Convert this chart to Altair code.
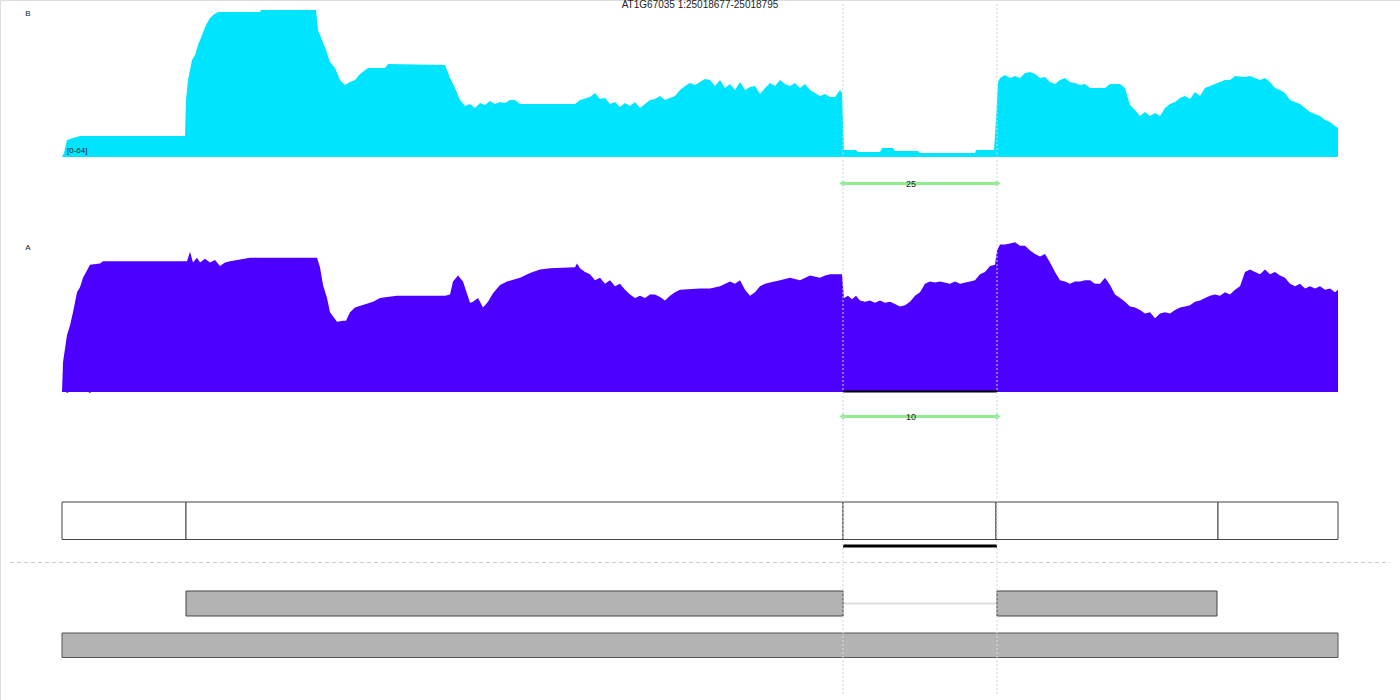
import altair as alt
import pandas as pd

TITLE = "AT1G67035 1:25018677-25018795"
SPAN = [0, 1276]

# coverage track B (range 0-64)
posB = [0, 2, 5, 8, 18, 123, 124, 126, 128, 130, 133, 136, 140, 144, 148, 152, 156, 198, 199, 254,
        256, 260, 264, 268, 273, 278, 283, 288, 293, 298, 306, 323, 326, 383, 388, 393, 398, 403,
        408, 413, 418, 423, 428, 433, 438, 443, 448, 453, 458, 513, 518, 528, 533, 538, 543, 548,
        553, 558, 563, 568, 573, 578, 583, 588, 593, 598, 603, 608, 613, 618, 623, 628, 633, 638,
        643, 648, 653, 658, 663, 668, 673, 678, 683, 688, 693, 698, 703, 708, 713, 718, 723, 728,
        733, 738, 743, 748, 753, 758, 763, 768, 773, 778, 780, 782, 794, 796, 818, 820, 831, 833,
        856, 858, 913, 914, 932, 934, 936, 938, 943, 948, 953, 958, 963, 968, 973, 978, 983, 988,
        993, 998, 1003, 1008, 1013, 1018, 1023, 1028, 1043, 1048, 1058, 1063, 1068, 1073, 1078,
        1083, 1088, 1093, 1098, 1103, 1108, 1113, 1118, 1123, 1128, 1133, 1138, 1143, 1148, 1153,
        1158, 1163, 1168, 1173, 1183, 1188, 1193, 1198, 1203, 1208, 1213, 1218, 1223, 1228, 1233,
        1238, 1243, 1248, 1253, 1258, 1263, 1268, 1273, 1276]
covB = [0, 1.7, 7.4, 7.8, 9.1, 9.1, 24.8, 33.5, 37.9, 42.2, 44.4, 48.8, 53.1, 57.5, 60.5, 62.2, 63.1,
        63.1, 64, 64, 55.3, 50.9, 46.6, 41.4, 38.7, 33.5, 31.3, 32.7, 33.5, 36.1, 38.7, 38.7, 40.5,
        40.1, 34.4, 30, 24.8, 22.2, 23.1, 21.3, 23.5, 22.6, 24.4, 23.1, 23.9, 23.5, 24.8, 24.8,
        23.1, 23.1, 24.8, 26.1, 27.9, 25.2, 25.7, 23.1, 23.9, 21.8, 23.5, 22.2, 23.9, 21.3, 23.1,
        24.8, 25.2, 26.6, 24.8, 25.7, 26.6, 29.2, 30.9, 32.2, 31.3, 32.7, 34, 33.5, 30.9, 33.5, 30,
        31.8, 29.2, 32.7, 29.2, 30.5, 30.9, 27.4, 30, 32.2, 30.9, 33.5, 31.8, 30.9, 32.2, 30, 31.8,
        29.2, 27.9, 26.6, 27.4, 26.1, 26.1, 29.2, 27.9, 3, 3, 2.2, 2.2, 3.9, 3.9, 2.6, 2.6, 1.7,
        1.7, 3, 3, 16.1, 32.7, 34.4, 35.7, 34.4, 35.3, 34.4, 36.6, 37, 36.1, 34.4, 34.8, 32.7,
        31.8, 33.5, 34.4, 32.7, 32.2, 31.3, 31.8, 30, 30, 31.8, 31.8, 30, 22.6, 20.5, 17.8, 19.6,
        17.8, 19.2, 17.8, 21.3, 23.1, 23.9, 25.7, 26.6, 25.2, 28.3, 26.6, 30, 30.9, 31.8, 32.7,
        33.5, 33.5, 35.3, 34.8, 35.3, 34.4, 33.5, 34.4, 32.7, 30, 29.2, 27.9, 24.8, 23.9, 23.1,
        21.3, 19.6, 18.7, 17.8, 16.1, 15.2, 13.5, 12.6]

# coverage track A (range 0-127)
posA = [0, 1, 5, 8, 11, 15, 18, 21, 28, 38, 41, 125, 128, 131, 135, 138, 143, 148, 153, 158, 163,
        168, 188, 255, 258, 261, 265, 268, 275, 281, 284, 288, 293, 311, 318, 325, 335, 383, 388,
        391, 396, 401, 408, 411, 416, 421, 426, 431, 438, 445, 458, 468, 478, 488, 513, 515, 518,
        523, 528, 533, 538, 543, 548, 553, 558, 563, 568, 573, 578, 583, 588, 593, 598, 603, 608,
        613, 618, 638, 648, 658, 668, 673, 678, 683, 688, 693, 698, 703, 708, 718, 728, 738, 748,
        758, 763, 768, 780, 782, 786, 790, 794, 798, 803, 808, 813, 818, 823, 828, 833, 838, 843,
        848, 853, 858, 863, 868, 873, 878, 888, 893, 898, 908, 913, 918, 923, 928, 933, 935, 938,
        943, 948, 953, 958, 963, 968, 973, 978, 983, 988, 993, 998, 1003, 1008, 1013, 1018, 1023,
        1028, 1033, 1038, 1043, 1048, 1053, 1058, 1063, 1068, 1073, 1078, 1083, 1088, 1093, 1098,
        1103, 1108, 1113, 1118, 1123, 1128, 1133, 1138, 1143, 1148, 1153, 1158, 1163, 1168, 1173,
        1178, 1183, 1188, 1193, 1198, 1203, 1208, 1213, 1218, 1223, 1228, 1233, 1238, 1243, 1248,
        1253, 1258, 1263, 1268, 1273, 1276]
covA = [0, 25, 48, 56, 67, 84, 88, 96, 107, 108, 110, 110, 118, 109, 113, 109, 112, 109, 111, 106,
        109, 110, 113, 113, 105, 90, 79, 67, 59, 60, 60, 67, 71, 76, 79, 80, 81, 81, 82, 93, 98, 93,
        75, 76, 79, 71, 76, 83, 90, 93, 96, 100, 103, 104, 105, 108, 104, 101, 99, 94, 96, 91, 94,
        89, 91, 86, 82, 79, 81, 79, 82, 82, 80, 77, 81, 84, 86, 87, 87, 89, 93, 91, 94, 86, 81, 84,
        89, 91, 92, 94, 96, 94, 98, 96, 98, 99, 99, 79, 81, 78, 81, 77, 76, 77, 75, 77, 75, 76, 74,
        72, 73, 76, 81, 84, 91, 93, 92, 93, 91, 93, 91, 93, 94, 99, 101, 106, 107, 119, 124, 124,
        125, 126, 123, 123, 119, 116, 114, 116, 109, 101, 94, 93, 91, 93, 93, 94, 94, 91, 91, 96,
        90, 82, 79, 76, 72, 71, 69, 66, 67, 62, 66, 67, 66, 69, 71, 72, 73, 76, 77, 79, 81, 82, 81,
        84, 82, 86, 89, 101, 103, 101, 99, 103, 99, 101, 98, 96, 91, 89, 91, 87, 89, 87, 89, 86, 87,
        84, 86]

# splice junction
junc_start = [781]
junc_end = [935]
junc_reads_B = ["25"]
junc_reads_A = ["10"]

# gene model segments
gene_start = [0, 124, 781, 934, 1156]
gene_end = [124, 781, 934, 1156, 1276]

# transcripts
tx1_start = [124, 935]
tx1_end = [781, 1155]
tx2_start = [0]
tx2_end = [1276]

CYAN = "#00e5ff"
PURPLE = "#4c00ff"
GREEN = "#90ee90"
FONT = "Liberation Sans"

xs = alt.Scale(domain=SPAN, range=[62, 1338])
X = lambda f: alt.X(f, type="quantitative", scale=xs, axis=None)

dfB = pd.DataFrame({"pos": posB, "cov": covB})
dfA = pd.DataFrame({"pos": posA, "cov": covA})
dfJ = pd.DataFrame({"s": junc_start, "e": junc_end, "rb": junc_reads_B, "ra": junc_reads_A})
dfJpts = pd.DataFrame({"p": junc_start + junc_end})
dfGene = pd.DataFrame({"s": gene_start, "e": gene_end})
dfT1 = pd.DataFrame({"s": tx1_start, "e": tx1_end})
dfT2 = pd.DataFrame({"s": tx2_start, "e": tx2_end})
dfTxt = pd.DataFrame({"t": [TITLE]})

title = alt.Chart(dfTxt).mark_text(font=FONT, fontSize=10, color="#222", baseline="top").encode(
    x=alt.value(700), y=alt.value(0), text="t:N")

labB = alt.Chart(pd.DataFrame({"t": ["B"]})).mark_text(font=FONT, fontSize=8, color="#222").encode(
    x=alt.value(28), y=alt.value(14), text="t:N")
labA = alt.Chart(pd.DataFrame({"t": ["A"]})).mark_text(font=FONT, fontSize=8, color="#222").encode(
    x=alt.value(28), y=alt.value(248), text="t:N")

rangeA = alt.Chart(pd.DataFrame({"t": ["[0-127]"]})).mark_text(
    font=FONT, fontSize=8, color="#000", align="left", baseline="bottom").encode(
    x=alt.value(66), y=alt.value(392.5), text="t:N")

areaB = alt.Chart(dfB).mark_area(color=CYAN, interpolate="linear").encode(
    x=X("pos"),
    y=alt.Y("cov:Q", scale=alt.Scale(domain=[0, 64], range=[157, 10]), axis=None))
areaA = alt.Chart(dfA).mark_area(color=PURPLE, interpolate="linear").encode(
    x=X("pos"),
    y=alt.Y("cov:Q", scale=alt.Scale(domain=[0, 127], range=[392, 241]), axis=None))

rangeB = alt.Chart(pd.DataFrame({"t": ["[0-64]"]})).mark_text(
    font=FONT, fontSize=8, color="#222", align="left", baseline="middle").encode(
    x=alt.value(67), y=alt.value(151), text="t:N")

vlines = alt.Chart(dfJpts).mark_rule(color="#c9dbea", strokeDash=[2, 2], strokeWidth=1).encode(
    x=X("p"), y=alt.value(4), y2=alt.value(696))

def junction(y, lab):
    line = alt.Chart(dfJ).mark_rule(color=GREEN, strokeWidth=3).encode(
        x=X("s"), x2="e:Q", y=alt.value(y))
    pts = alt.Chart(dfJpts).mark_point(shape="diamond", filled=True, color=GREEN, size=40, opacity=1).encode(
        x=X("p"), y=alt.value(y))
    txt = alt.Chart(dfJ).transform_calculate(m="(datum.s + datum.e) / 2").mark_text(
        font=FONT, fontSize=9, color="#222", dx=-9).encode(x=X("m"), y=alt.value(y), text=f"{lab}:N")
    return line + pts + txt

jB = junction(183.5, "rb")
jA = junction(416.5, "ra")

barA = alt.Chart(dfJ).mark_rule(color="#000", strokeWidth=2).encode(
    x=X("s"), x2="e:Q", y=alt.value(391.5))
barG = alt.Chart(dfJ).mark_rule(color="#000", strokeWidth=3).encode(
    x=X("s"), x2="e:Q", y=alt.value(546))

gene = alt.Chart(dfGene).mark_rect(fill="white", stroke="#444", strokeWidth=1).encode(
    x=X("s"), x2="e:Q", y=alt.value(502), y2=alt.value(539.5))

sep = alt.Chart(pd.DataFrame({"a": [0]})).mark_rule(color="#cccccc", strokeDash=[4, 3], strokeWidth=1).encode(
    x=alt.value(10), x2=alt.value(1390), y=alt.value(562.5))

intron = alt.Chart(dfJ).mark_rule(color="#dddddd", strokeWidth=2).encode(
    x=X("s"), x2="e:Q", y=alt.value(603.5))
t1 = alt.Chart(dfT1).mark_rect(fill="#b3b3b3", stroke="#444", strokeWidth=1).encode(
    x=X("s"), x2="e:Q", y=alt.value(591), y2=alt.value(616))
t2 = alt.Chart(dfT2).mark_rect(fill="#b3b3b3", stroke="#555", strokeWidth=1).encode(
    x=X("s"), x2="e:Q", y=alt.value(633), y2=alt.value(657.5))

chart = alt.layer(
    title, labB, labA, rangeA, areaB, areaA, rangeB, jB, jA, gene, sep, intron, t1, t2,
    barA, barG, vlines
).resolve_scale(y="independent").properties(
    width=1400, height=700, padding=0,
    autosize=alt.AutoSizeParams(type="none")
).configure_view(stroke=None).configure(background="white")

chart.save("out.html", embed_options={"renderer": "svg", "actions": False})
